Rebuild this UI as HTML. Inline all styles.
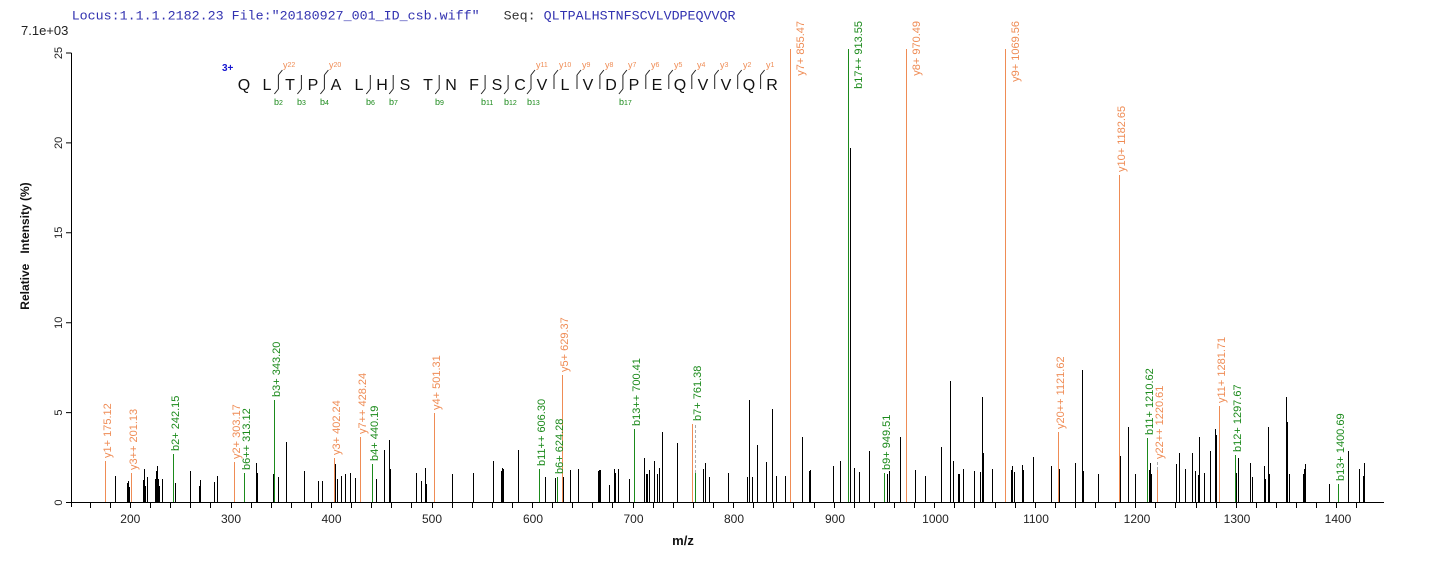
<!DOCTYPE html>
<html>
<head>
<meta charset="utf-8">
<style>
html,body{margin:0;padding:0;background:#fff;}
svg{display:block;}
text{font-family:"Liberation Sans",Arial,sans-serif;}
</style>
</head>
<body>
<svg width="1436" height="562" viewBox="0 0 1436 562" xmlns="http://www.w3.org/2000/svg">
<rect width="1436" height="562" fill="#fff"/>

<!-- header -->
<text x="71.7" y="19.5" xml:space="preserve" style="font-family:'Liberation Mono',monospace;font-size:13.33px;fill:#3232b0">Locus:1.1.1.2182.23 File:"20180927_001_ID_csb.wiff"   <tspan fill="#333">Seq:</tspan> QLTPALHSTNFSCVLVDPEQVVQR</text>
<text x="21" y="35" style="font-size:13px;fill:#222">7.1e+03</text>

<!-- axes -->
<path d="M71.5 52.7V507M71 502.5H1384" stroke="#000" stroke-width="1" fill="none"/>
<path d="M66 502.5H71M66 412.6H71M66 322.7H71M66 232.8H71M66 142.9H71M66 53H71" stroke="#000" stroke-width="1"/>
<g style="font-size:11px;fill:#222" text-anchor="middle">
<text transform="translate(62,502.5) rotate(-90)">0</text>
<text transform="translate(62,412.6) rotate(-90)">5</text>
<text transform="translate(62,322.7) rotate(-90)">10</text>
<text transform="translate(62,232.8) rotate(-90)">15</text>
<text transform="translate(62,142.9) rotate(-90)">20</text>
<text transform="translate(62,53) rotate(-90)">25</text>
</g>
<path stroke="#000" stroke-width="1" d="M90.5 502V508M110.5 502V508M130.5 502V508M150.5 502V508M170.5 502V508M190.5 502V508M210.5 502V508M231.5 502V508M251.5 502V508M271.5 502V508M291.5 502V508M311.5 502V508M331.5 502V508M351.5 502V508M371.5 502V508M391.5 502V508M432.5 502V508M411.5 502V508M452.5 502V508M472.5 502V508M492.5 502V508M512.5 502V508M532.5 502V508M552.5 502V508M572.5 502V508M592.5 502V508M612.5 502V508M633.5 502V508M653.5 502V508M673.5 502V508M693.5 502V508M713.5 502V508M733.5 502V508M753.5 502V508M773.5 502V508M793.5 502V508M814.5 502V508M834.5 502V508M854.5 502V508M874.5 502V508M894.5 502V508M914.5 502V508M934.5 502V508M954.5 502V508M974.5 502V508M995.5 502V508M1015.5 502V508M1035.5 502V508M1055.5 502V508M1075.5 502V508M1095.5 502V508M1115.5 502V508M1135.5 502V508M1155.5 502V508M1175.5 502V508M1196.5 502V508M1216.5 502V508M1236.5 502V508M1256.5 502V508M1276.5 502V508M1296.5 502V508M1316.5 502V508M1336.5 502V508M1356.5 502V508"/>
<g style="font-size:12px;fill:#222" text-anchor="middle">
<text x="130.3" y="523">200</text>
<text x="231" y="523">300</text>
<text x="331.5" y="523">400</text>
<text x="432" y="523">500</text>
<text x="533" y="523">600</text>
<text x="633.5" y="523">700</text>
<text x="734" y="523">800</text>
<text x="835" y="523">900</text>
<text x="935.5" y="523">1000</text>
<text x="1036" y="523">1100</text>
<text x="1137" y="523">1200</text>
<text x="1237" y="523">1300</text>
<text x="1338" y="523">1400</text>
</g>
<text x="683" y="545" text-anchor="middle" style="font-size:13px;font-weight:bold;fill:#111">m/z</text>
<text transform="translate(29,246) rotate(-90)" text-anchor="middle" xml:space="preserve" style="font-size:12px;font-weight:bold;fill:#111">Relative   Intensity (%)</text>

<!-- black peaks -->
<path stroke="#000" stroke-width="1" fill="none" d="M115.5 502V476M127.5 502V483M128.5 502V481M129.5 502V487M131.5 502V483M143.5 502V480M144.5 502V469M145.5 502V486M147.5 502V477M155.5 502V479M156.5 502V471M157.5 502V466M158.5 502V479M159.5 502V486M162.5 502V479M175.5 502V483M190.5 502V471M199.5 502V486M200.5 502V480M214.5 502V482M217.5 502V476M256.5 502V463M257.5 502V473M273.5 502V474M278.5 502V477M286.5 502V442M304.5 502V471M318.5 502V481M322.5 502V481M335.5 502V464M337.5 502V479M341.5 502V476M345.5 502V474M350.5 502V473M355.5 502V478M376.5 502V479M384.5 502V450M389.5 502V440M390.5 502V469M416.5 502V473M421.5 502V481M425.5 502V468M426.5 502V484M452.5 502V474M473.5 502V473M493.5 502V461M501.5 502V471M502.5 502V468M503.5 502V469M518.5 502V450M545.5 502V477M555.5 502V478M563.5 502V477M570.5 502V470M578.5 502V469M598.5 502V471M599.5 502V470M600.5 502V470M609.5 502V485M614.5 502V469M615.5 502V473M618.5 502V469M629.5 502V479M644.5 502V458M646.5 502V474M647.5 502V474M649.5 502V470M654.5 502V461M657.5 502V474M659.5 502V468M662.5 502V432M677.5 502V443M703.5 502V469M705.5 502V463M709.5 502V477M728.5 502V473M747.5 502V477M749.5 502V400M752.5 502V477M757.5 502V445M766.5 502V462M772.5 502V409M776.5 502V476M785.5 502V476M802.5 502V437M809.5 502V471M810.5 502V470M833.5 502V466M840.5 502V461M850.5 502V148M854.5 502V468M859.5 502V472M869.5 502V451M887.5 502V474M889.5 502V471M900.5 502V437M906.5 502V453M915.5 502V470M925.5 502V476M941.5 502V447M950.5 502V381M953.5 502V461M958.5 502V474M959.5 502V474M963.5 502V469M974.5 502V471M980.5 502V472M982.5 502V397M983.5 502V453M992.5 502V469M1011.5 502V470M1012.5 502V466M1014.5 502V472M1022.5 502V465M1023.5 502V470M1033.5 502V457M1051.5 502V466M1059.5 502V469M1075.5 502V463M1082.5 502V370M1083.5 502V471M1098.5 502V474M1120.5 502V456M1128.5 502V427M1135.5 502V474M1149.5 502V470M1150.5 502V463M1151.5 502V474M1176.5 502V464M1179.5 502V453M1185.5 502V469M1192.5 502V453M1195.5 502V471M1198.5 502V475M1199.5 502V437M1204.5 502V473M1210.5 502V451M1215.5 502V429M1216.5 502V435M1236.5 502V473M1238.5 502V458M1250.5 502V463M1252.5 502V477M1264.5 502V466M1265.5 502V479M1268.5 502V427M1269.5 502V474M1286.5 502V397M1287.5 502V422M1289.5 502V474M1303.5 502V474M1304.5 502V469M1305.5 502V464M1329.5 502V484M1348.5 502V451M1359.5 502V469M1363.5 502V476M1364.5 502V463"/>

<!-- gray dashed connectors -->
<path stroke="#aaa" stroke-width="1" stroke-dasharray="3,2" d="M695.5 473V424M1157.5 470V462"/>

<!-- orange (y) peaks -->
<path stroke="#ef8c55" stroke-width="1" fill="none" d="M105.5 502V461M131.5 502V473M234.5 502V462M334.5 502V458M360.5 502V437M434.5 502V413M562.5 502V375M692.5 502V424M790.5 502V49M906.5 502V49M1005.5 502V49M1058.5 502V432M1119.5 502V175M1157.5 502V470M1219.5 502V406"/>
<!-- green (b) peaks -->
<path stroke="#1b8a1b" stroke-width="1" fill="none" d="M173.5 502V454M244.5 502V473M274.5 502V400M372.5 502V464M539.5 502V469M557.5 502V477M634.5 502V429M695.5 502V473M848.5 502V49M884.5 502V473M1147.5 502V438M1235.5 502V455M1338.5 502V484"/>

<!-- orange labels -->
<g style="font-size:11px;fill:#ef8c55">
<text transform="translate(111,458) rotate(-90)">y1+ 175.12</text>
<text transform="translate(137,470) rotate(-90)">y3++ 201.13</text>
<text transform="translate(240,459) rotate(-90)">y2+ 303.17</text>
<text transform="translate(340,455) rotate(-90)">y3+ 402.24</text>
<text transform="translate(366,434) rotate(-90)">y7++ 428.24</text>
<text transform="translate(440,410) rotate(-90)">y4+ 501.31</text>
<text transform="translate(568,372) rotate(-90)">y5+ 629.37</text>
<text transform="translate(804,21) rotate(-90)" text-anchor="end">y7+ 855.47</text>
<text transform="translate(920,21) rotate(-90)" text-anchor="end">y8+ 970.49</text>
<text transform="translate(1019,21) rotate(-90)" text-anchor="end">y9+ 1069.56</text>
<text transform="translate(1064,429) rotate(-90)">y20++ 1121.62</text>
<text transform="translate(1125,172) rotate(-90)">y10+ 1182.65</text>
<text transform="translate(1163,459) rotate(-90)">y22++ 1220.61</text>
<text transform="translate(1225,403) rotate(-90)">y11+ 1281.71</text>
</g>
<!-- green labels -->
<g style="font-size:11px;fill:#1b8a1b">
<text transform="translate(179,451) rotate(-90)">b2+ 242.15</text>
<text transform="translate(250,470) rotate(-90)">b6++ 313.12</text>
<text transform="translate(280,397) rotate(-90)">b3+ 343.20</text>
<text transform="translate(378,461) rotate(-90)">b4+ 440.19</text>
<text transform="translate(545,466) rotate(-90)">b11++ 606.30</text>
<text transform="translate(563,474) rotate(-90)">b6+ 624.28</text>
<text transform="translate(640,426) rotate(-90)">b13++ 700.41</text>
<text transform="translate(701,421) rotate(-90)">b7+ 761.38</text>
<text transform="translate(862,21) rotate(-90)" text-anchor="end">b17++ 913.55</text>
<text transform="translate(890,470) rotate(-90)">b9+ 949.51</text>
<text transform="translate(1153,435) rotate(-90)">b11+ 1210.62</text>
<text transform="translate(1241,452) rotate(-90)">b12+ 1297.67</text>
<text transform="translate(1344,481) rotate(-90)">b13+ 1400.69</text>
</g>

<!-- peptide -->
<text x="222" y="71" style="font-size:10px;font-weight:bold;fill:#1515d0">3+</text>
<g style="font-size:16px;fill:#111" text-anchor="middle">
<text x="244" y="90">Q</text><text x="267" y="90">L</text><text x="290" y="90">T</text><text x="313" y="90">P</text>
<text x="336" y="90">A</text><text x="359" y="90">L</text><text x="382" y="90">H</text><text x="405" y="90">S</text>
<text x="428" y="90">T</text><text x="451" y="90">N</text><text x="474" y="90">F</text><text x="497" y="90">S</text>
<text x="520" y="90">C</text><text x="542" y="90">V</text><text x="565" y="90">L</text><text x="588" y="90">V</text>
<text x="611" y="90">D</text><text x="634" y="90">P</text><text x="657" y="90">E</text><text x="680" y="90">Q</text>
<text x="703" y="90">V</text><text x="726" y="90">V</text><text x="749" y="90">Q</text><text x="772" y="90">R</text>
</g>
<!-- cleavage markers: boundary k at x=244+22.96*(k-0.5) -->
<path stroke="#222" stroke-width="1" fill="none" d="
M278.4 75V89 M278.4 75L282.4 70 M278.4 89L274.4 94
M301.4 75V89 M301.4 89L297.4 94
M324.4 75V89 M324.4 75L328.4 70 M324.4 89L320.4 94
M370.3 75V89 M370.3 89L366.3 94
M393.2 75V89 M393.2 89L389.2 94
M439.2 75V89 M439.2 89L435.2 94
M485.1 75V89 M485.1 89L481.1 94
M508.1 75V89 M508.1 89L504.1 94
M531.0 75V89 M531.0 75L535.0 70 M531.0 89L527.0 94
M554.0 75V89 M554.0 75L558.0 70
M577.0 75V89 M577.0 75L581.0 70
M599.9 75V89 M599.9 75L603.9 70
M622.9 75V89 M622.9 75L626.9 70 M622.9 89L618.9 94
M645.8 75V89 M645.8 75L649.8 70
M668.8 75V89 M668.8 75L672.8 70
M691.8 75V89 M691.8 75L695.8 70
M714.7 75V89 M714.7 75L718.7 70
M737.7 75V89 M737.7 75L741.7 70
M760.6 75V89 M760.6 75L764.6 70
"/>
<g style="font-size:9px;fill:#ef8c55">
<text x="283" y="68">y<tspan font-size="7" dy="-1">22</tspan></text>
<text x="329" y="68">y<tspan font-size="7" dy="-1">20</tspan></text>
<text x="536" y="68">y<tspan font-size="7" dy="-1">11</tspan></text>
<text x="559" y="68">y<tspan font-size="7" dy="-1">10</tspan></text>
<text x="582" y="68">y<tspan font-size="7" dy="-1">9</tspan></text>
<text x="605" y="68">y<tspan font-size="7" dy="-1">8</tspan></text>
<text x="628" y="68">y<tspan font-size="7" dy="-1">7</tspan></text>
<text x="651" y="68">y<tspan font-size="7" dy="-1">6</tspan></text>
<text x="674" y="68">y<tspan font-size="7" dy="-1">5</tspan></text>
<text x="697" y="68">y<tspan font-size="7" dy="-1">4</tspan></text>
<text x="720" y="68">y<tspan font-size="7" dy="-1">3</tspan></text>
<text x="743" y="68">y<tspan font-size="7" dy="-1">2</tspan></text>
<text x="766" y="68">y<tspan font-size="7" dy="-1">1</tspan></text>
</g>
<g style="font-size:9px;fill:#1b8a1b">
<text x="274" y="105">b<tspan font-size="7">2</tspan></text>
<text x="297" y="105">b<tspan font-size="7">3</tspan></text>
<text x="320" y="105">b<tspan font-size="7">4</tspan></text>
<text x="366" y="105">b<tspan font-size="7">6</tspan></text>
<text x="389" y="105">b<tspan font-size="7">7</tspan></text>
<text x="435" y="105">b<tspan font-size="7">9</tspan></text>
<text x="481" y="105">b<tspan font-size="7">11</tspan></text>
<text x="504" y="105">b<tspan font-size="7">12</tspan></text>
<text x="527" y="105">b<tspan font-size="7">13</tspan></text>
<text x="619" y="105">b<tspan font-size="7">17</tspan></text>
</g>
</svg>
</body>
</html>
